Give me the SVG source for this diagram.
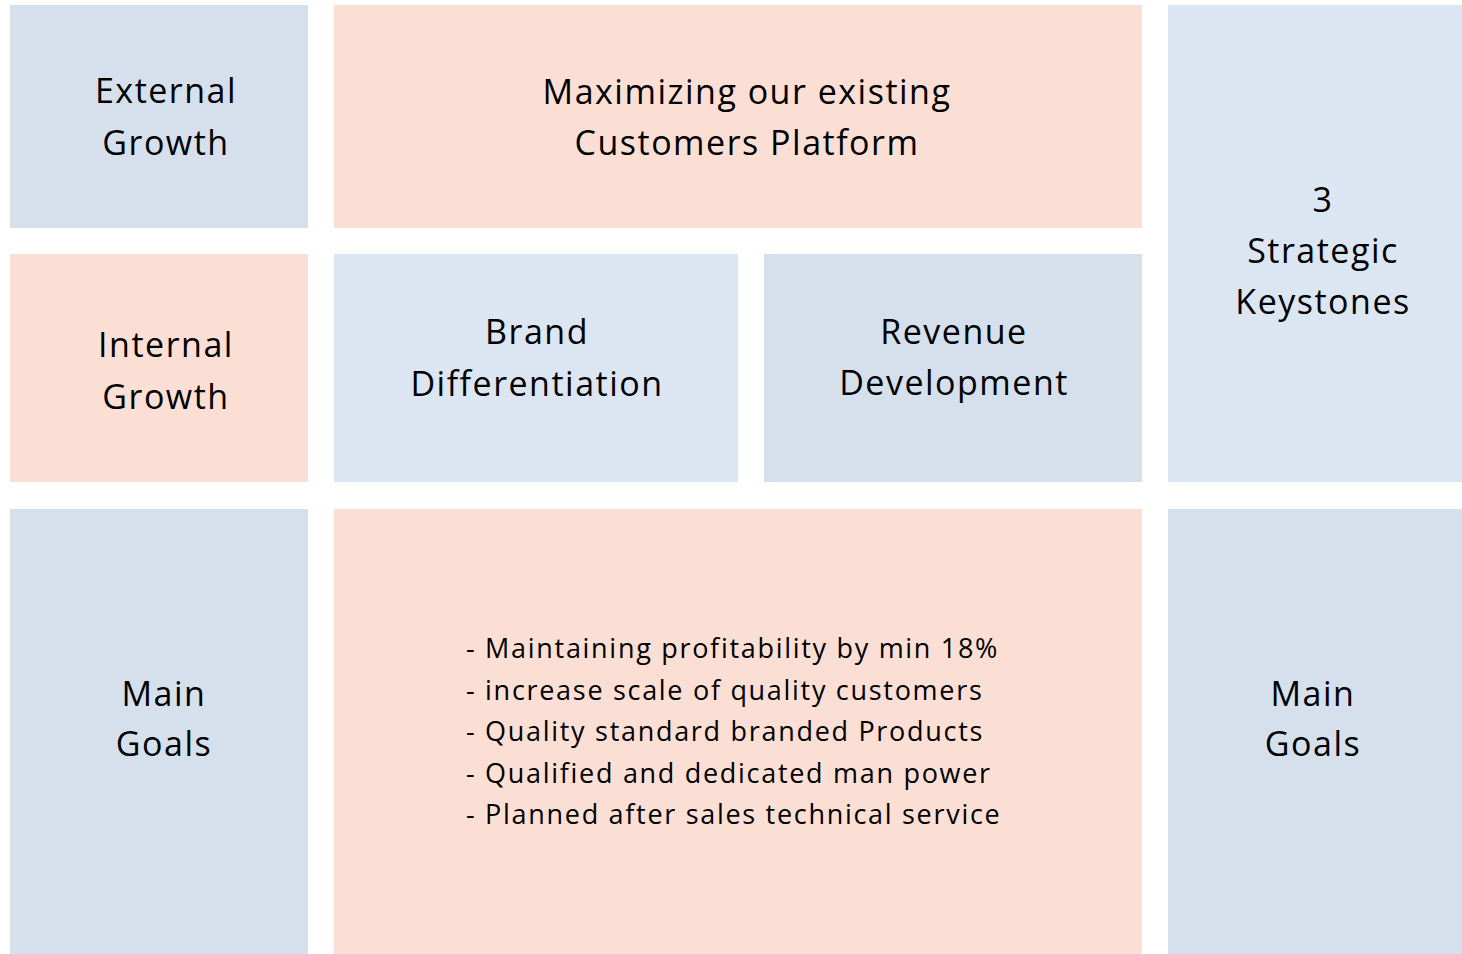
<svg xmlns="http://www.w3.org/2000/svg" width="1462" height="954" viewBox="0 0 1462 954">
<style>
.b1{fill:#D5E0EC}
.b2{fill:#DCE6F2}
.s{fill:#FBDFD5}
text{font-family:"Open Sans","Liberation Sans",Arial,sans-serif;fill:#000;}
.t{font-size:34px;text-anchor:middle;letter-spacing:1.5px}
.l{font-size:27px;letter-spacing:1.7px}
</style>
<rect width="1462" height="954" fill="#fff"/>
<g id="external-growth"><rect class="b1" x="10" y="5" width="298" height="223"/><text class="t" x="166" y="103">External</text><text class="t" x="166" y="155">Growth</text></g>
<g id="maximizing"><rect class="s" x="334" y="5" width="808" height="223"/><text class="t" x="747" y="104">Maximizing our existing</text><text class="t" x="747" y="155">Customers Platform</text></g>
<g id="strategic-keystones"><rect class="b2" x="1168" y="5" width="294" height="477"/><text class="t" x="1323" y="212">3</text><text class="t" x="1323" y="263">Strategic</text><text class="t" x="1323" y="314">Keystones</text></g>
<g id="internal-growth"><rect class="s" x="10" y="254" width="298" height="228"/><text class="t" x="166" y="357">Internal</text><text class="t" x="166" y="409">Growth</text></g>
<g id="brand"><rect class="b2" x="334" y="254" width="404" height="228"/><text class="t" x="537" y="344">Brand</text><text class="t" x="537" y="396">Differentiation</text></g>
<g id="revenue"><rect class="b1" x="764" y="254" width="378" height="228"/><text class="t" x="954" y="344">Revenue</text><text class="t" x="954" y="395">Development</text></g>
<g id="main-goals-left"><rect class="b1" x="10" y="509" width="298" height="445"/><text class="t" x="164" y="706">Main</text><text class="t" x="164" y="756">Goals</text></g>
<g id="goals-list"><rect class="s" x="334" y="509" width="808" height="445"/>
<text class="l" x="466" y="658">- Maintaining profitability by min 18%</text>
<text class="l" x="466" y="699.5">- increase scale of quality customers</text>
<text class="l" x="466" y="741">- Quality standard branded Products</text>
<text class="l" x="466" y="782.5">- Qualified and dedicated man power</text>
<text class="l" x="466" y="824">- Planned after sales technical service</text>
</g>
<g id="main-goals-right"><rect class="b1" x="1168" y="509" width="294" height="445"/><text class="t" x="1313" y="706">Main</text><text class="t" x="1313" y="756">Goals</text></g>
<g id="connectors"/>
</svg>
